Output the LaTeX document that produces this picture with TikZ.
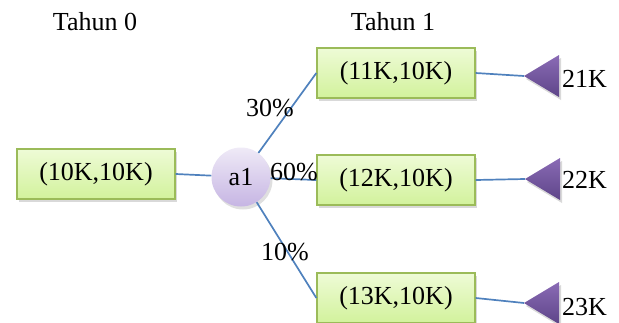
\documentclass[tikz,border=0pt]{standalone}
\usepackage{fontspec}
\setmainfont{Liberation Serif}
\usetikzlibrary{shadows}
\definecolor{boxtop}{HTML}{EEFBD6}
\definecolor{boxbot}{HTML}{D2F29C}
\definecolor{boxline}{HTML}{9BBB59}
\definecolor{circtop}{HTML}{EFEAF7}
\definecolor{circbot}{HTML}{C6B5E3}
\definecolor{tritop}{HTML}{8A6BB5}
\definecolor{tribot}{HTML}{5E4589}
\definecolor{conn}{HTML}{4F81BD}
\tikzset{
  txt/.style={font=\fontsize{26}{30}\selectfont, inner sep=0pt},
  statebox/.style={draw=boxline, line width=1.3pt, top color=boxtop, bottom color=boxbot,
    minimum width=158pt, minimum height=50pt, inner sep=0pt, font=\fontsize{26}{30}\selectfont,
    drop shadow={shadow xshift=2pt, shadow yshift=-3pt, opacity=0.3}},
  chance/.style={circle, minimum size=59pt, inner sep=0pt, top color=circtop, bottom color=circbot,
    font=\fontsize{26}{30}\selectfont,
    drop shadow={shadow xshift=2pt, shadow yshift=-3pt, opacity=0.25}},
  conline/.style={draw=conn, line width=1.7pt},
  endtri/.style={top color=tritop, bottom color=tribot,
    drop shadow={shadow xshift=2pt, shadow yshift=-3pt, opacity=0.3}}
}
\begin{document}
\begin{tikzpicture}[x=1pt, y=-1pt]
\useasboundingbox (0,0) rectangle (619,322);
\node[txt] (t0) at (95,22) {Tahun 0};
\node[txt] (t1) at (393,22) {Tahun 1};
\node[statebox] (b0) at (96,174) {(10K,10K)};
\node[statebox] (b1) at (396,73) {(11K,10K)};
\node[statebox] (b2) at (396,180) {(12K,10K)};
\node[statebox] (b3) at (396,298) {(13K,10K)};
\node[chance] (a1) at (241,177) {a1};
\coordinate (e1) at (524,76);
\coordinate (e2) at (525,179);
\coordinate (e3) at (524,303);
\foreach \e in {e1,e2,e3}{
  \path[endtri] (\e) -- ++(35,-21) -- ++(0,42) -- cycle;
}
\draw[conline] (b0.east) -- (a1);
\draw[conline] (a1) -- (b1.west);
\draw[conline] (a1) -- (b2.west);
\draw[conline] (a1) -- (b3.west);
\draw[conline] (b1.east) -- (e1);
\draw[conline] (b2.east) -- (e2);
\draw[conline] (b3.east) -- (e3);
\node[txt, anchor=west] (l1) at (562,79) {21K};
\node[txt, anchor=west] (l2) at (562,180) {22K};
\node[txt, anchor=west] (l3) at (562,307) {23K};
\node[txt] (p1) at (270,108) {30\%};
\node[txt] (p2) at (294,172) {60\%};
\node[txt] (p3) at (285,252) {10\%};
\end{tikzpicture}
\end{document}
